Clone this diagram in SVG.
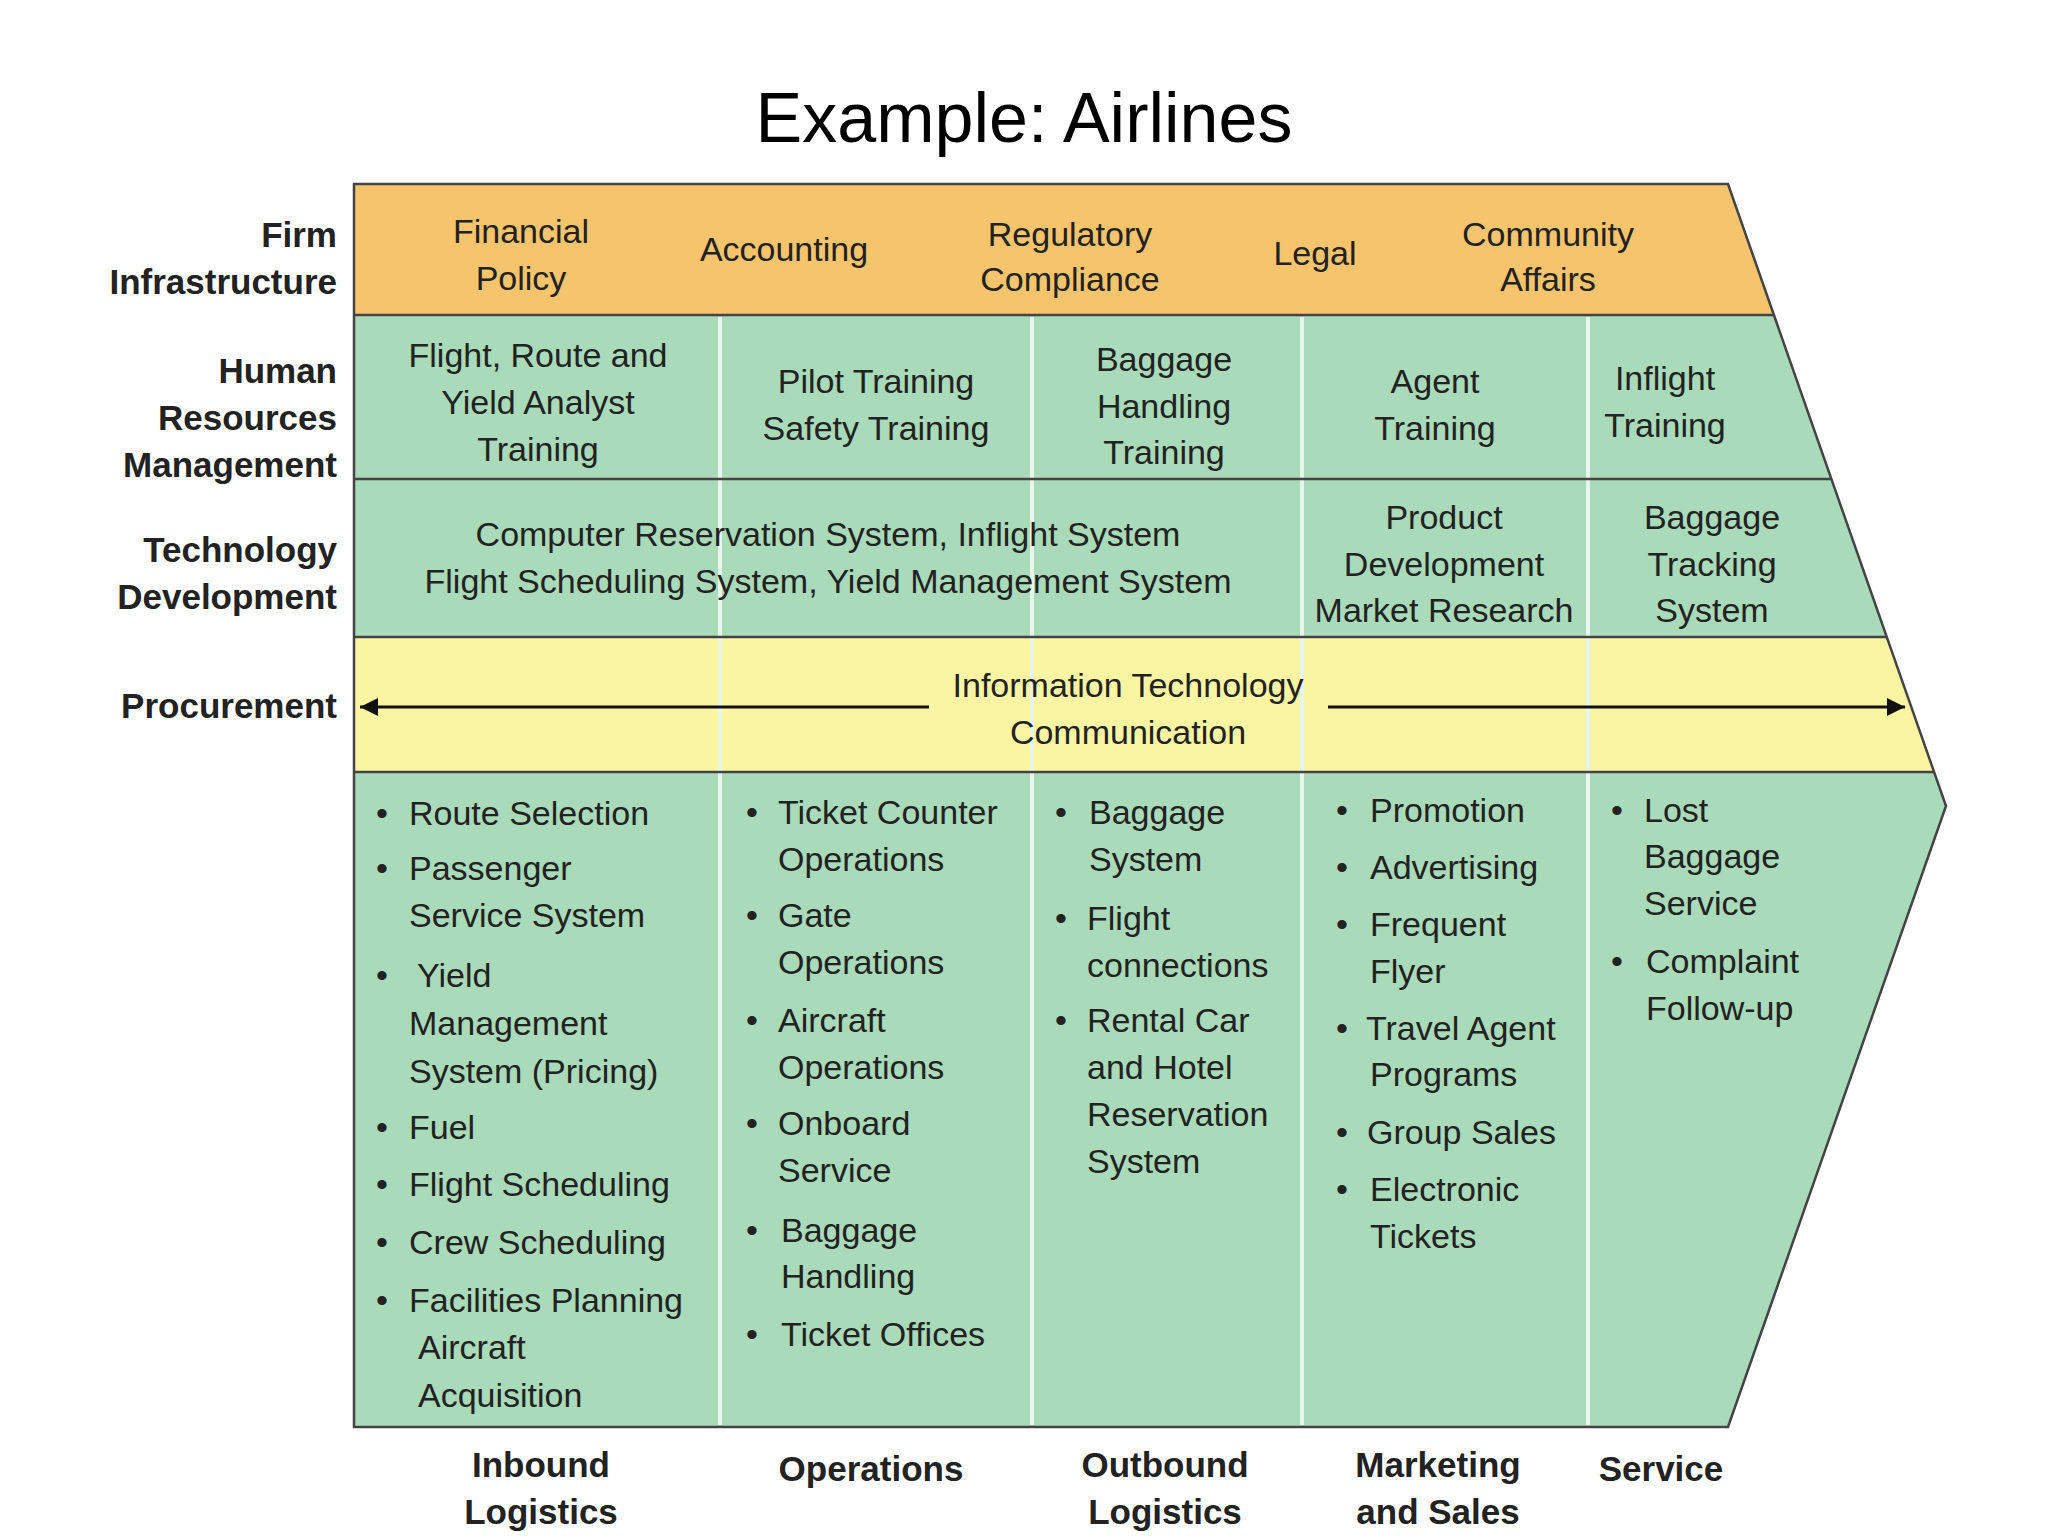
<svg xmlns="http://www.w3.org/2000/svg" width="2048" height="1536" viewBox="0 0 2048 1536">
<style>
text{font-family:"Liberation Sans",Arial,sans-serif;fill:#222}
.c{font-size:34px;text-anchor:middle}
.l{font-size:34px}
.h{font-size:35px;font-weight:bold;text-anchor:end}
.b{font-size:35px;font-weight:bold;text-anchor:middle}
.t{font-size:70px;text-anchor:middle;fill:#000}
.dv{stroke:#e8f5ec;stroke-width:4}
.ln{stroke:#444;stroke-width:2.5}
</style>
<defs><marker id="ah" viewBox="0 0 10 10" refX="10" refY="5" markerWidth="9" markerHeight="6" orient="auto-start-reverse"><path d="M0,0L10,5L0,10z" fill="#111"/></marker></defs>
<rect width="2048" height="1536" fill="#fff"/>
<text class="t" x="1024" y="142">Example: Airlines</text>
<g id="shape">
<polygon points="354,184 1728,184 1774,315 354,315" fill="#F6C46C"/>
<polygon points="354,315 1774,315 1831,479 354,479" fill="#A9DAB9"/>
<polygon points="354,479 1831,479 1887,637 354,637" fill="#A9DAB9"/>
<polygon points="354,637 1887,637 1934,772 354,772" fill="#FAF5A2"/>
<polygon points="354,772 1934,772 1946,806 1728,1427 354,1427" fill="#A9DAB9"/>
<g class="dv">
<line x1="720" y1="317" x2="720" y2="1425"/><line x1="1032" y1="317" x2="1032" y2="1425"/>
<line x1="1302" y1="317" x2="1302" y2="1425"/><line x1="1588" y1="317" x2="1588" y2="1425"/>
</g>
<g class="ln" fill="none">
<polygon points="354,184 1728,184 1946,806 1728,1427 354,1427"/>
<line x1="354" y1="315" x2="1774" y2="315"/><line x1="354" y1="479" x2="1831" y2="479"/>
<line x1="354" y1="637" x2="1887" y2="637"/><line x1="354" y1="772" x2="1934" y2="772"/>
</g>
</g>
<g id="labels">
<text class="h" x="337" y="247">Firm</text><text class="h" x="337" y="294">Infrastructure</text>
<text class="h" x="337" y="383">Human</text><text class="h" x="337" y="430">Resources</text><text class="h" x="337" y="477">Management</text>
<text class="h" x="337" y="562">Technology</text><text class="h" x="337" y="609">Development</text>
<text class="h" x="337" y="718">Procurement</text>
<text class="b" x="541" y="1477">Inbound</text><text class="b" x="541" y="1524">Logistics</text>
<text class="b" x="871" y="1481">Operations</text>
<text class="b" x="1165" y="1477">Outbound</text><text class="b" x="1165" y="1524">Logistics</text>
<text class="b" x="1438" y="1477">Marketing</text><text class="b" x="1438" y="1524">and Sales</text>
<text class="b" x="1661" y="1481">Service</text>
</g>
<g id="firm">
<text class="c" x="521" y="243">Financial</text><text class="c" x="521" y="290">Policy</text>
<text class="c" x="784" y="261">Accounting</text>
<text class="c" x="1070" y="246">Regulatory</text><text class="c" x="1070" y="291">Compliance</text>
<text class="c" x="1315" y="265">Legal</text>
<text class="c" x="1548" y="246">Community</text><text class="c" x="1548" y="291">Affairs</text>
</g>
<g id="hr">
<text class="c" x="538" y="367">Flight, Route and</text><text class="c" x="538" y="414">Yield Analyst</text><text class="c" x="538" y="461">Training</text>
<text class="c" x="876" y="393">Pilot Training</text><text class="c" x="876" y="440">Safety Training</text>
<text class="c" x="1164" y="371">Baggage</text><text class="c" x="1164" y="418">Handling</text><text class="c" x="1164" y="464">Training</text>
<text class="c" x="1435" y="393">Agent</text><text class="c" x="1435" y="440">Training</text>
<text class="c" x="1665" y="390">Inflight</text><text class="c" x="1665" y="437">Training</text>
</g>
<g id="tech">
<text class="c" x="828" y="546">Computer Reservation System, Inflight System</text>
<text class="c" x="828" y="593">Flight Scheduling System, Yield Management System</text>
<text class="c" x="1444" y="529">Product</text><text class="c" x="1444" y="576">Development</text><text class="c" x="1444" y="622">Market Research</text>
<text class="c" x="1712" y="529">Baggage</text><text class="c" x="1712" y="576">Tracking</text><text class="c" x="1712" y="622">System</text>
</g>
<g id="connectors">
<line x1="929" y1="707" x2="360" y2="707" stroke="#111" stroke-width="3" marker-end="url(#ah)"/>
<line x1="1328" y1="707" x2="1905" y2="707" stroke="#111" stroke-width="3" marker-end="url(#ah)"/>
</g>
<g id="proc">
<text class="c" x="1128" y="697">Information Technology</text><text class="c" x="1128" y="744">Communication</text>
</g>
<g id="inbound" class="l">
<text x="376" y="825">•</text><text x="409" y="825">Route Selection</text>
<text x="376" y="880">•</text><text x="409" y="880">Passenger</text><text x="409" y="927">Service System</text>
<text x="376" y="987">•</text><text x="417" y="987">Yield</text><text x="409" y="1035">Management</text><text x="409" y="1083">System (Pricing)</text>
<text x="376" y="1139">•</text><text x="409" y="1139">Fuel</text>
<text x="376" y="1196">•</text><text x="409" y="1196">Flight Scheduling</text>
<text x="376" y="1254">•</text><text x="409" y="1254">Crew Scheduling</text>
<text x="376" y="1312">•</text><text x="409" y="1312">Facilities Planning</text><text x="418" y="1359">Aircraft</text><text x="418" y="1407">Acquisition</text>
</g>
<g id="ops" class="l">
<text x="746" y="824">•</text><text x="778" y="824">Ticket Counter</text><text x="778" y="871">Operations</text>
<text x="746" y="927">•</text><text x="778" y="927">Gate</text><text x="778" y="974">Operations</text>
<text x="746" y="1032">•</text><text x="778" y="1032">Aircraft</text><text x="778" y="1079">Operations</text>
<text x="746" y="1135">•</text><text x="778" y="1135">Onboard</text><text x="778" y="1182">Service</text>
<text x="746" y="1242">•</text><text x="781" y="1242">Baggage</text><text x="781" y="1288">Handling</text>
<text x="746" y="1346">•</text><text x="781" y="1346">Ticket Offices</text>
</g>
<g id="outbound" class="l">
<text x="1055" y="824">•</text><text x="1089" y="824">Baggage</text><text x="1089" y="871">System</text>
<text x="1055" y="930">•</text><text x="1087" y="930">Flight</text><text x="1087" y="977">connections</text>
<text x="1055" y="1032">•</text><text x="1087" y="1032">Rental Car</text><text x="1087" y="1079">and Hotel</text><text x="1087" y="1126">Reservation</text><text x="1087" y="1173">System</text>
</g>
<g id="marketing" class="l">
<text x="1336" y="822">•</text><text x="1370" y="822">Promotion</text>
<text x="1336" y="879">•</text><text x="1370" y="879">Advertising</text>
<text x="1336" y="936">•</text><text x="1370" y="936">Frequent</text><text x="1370" y="983">Flyer</text>
<text x="1336" y="1040">•</text><text x="1366" y="1040">Travel Agent</text><text x="1370" y="1086">Programs</text>
<text x="1336" y="1144">•</text><text x="1367" y="1144">Group Sales</text>
<text x="1336" y="1201">•</text><text x="1370" y="1201">Electronic</text><text x="1370" y="1248">Tickets</text>
</g>
<g id="service" class="l">
<text x="1611" y="822">•</text><text x="1644" y="822">Lost</text><text x="1644" y="868">Baggage</text><text x="1644" y="915">Service</text>
<text x="1611" y="973">•</text><text x="1646" y="973">Complaint</text><text x="1646" y="1020">Follow-up</text>
</g>
</svg>
